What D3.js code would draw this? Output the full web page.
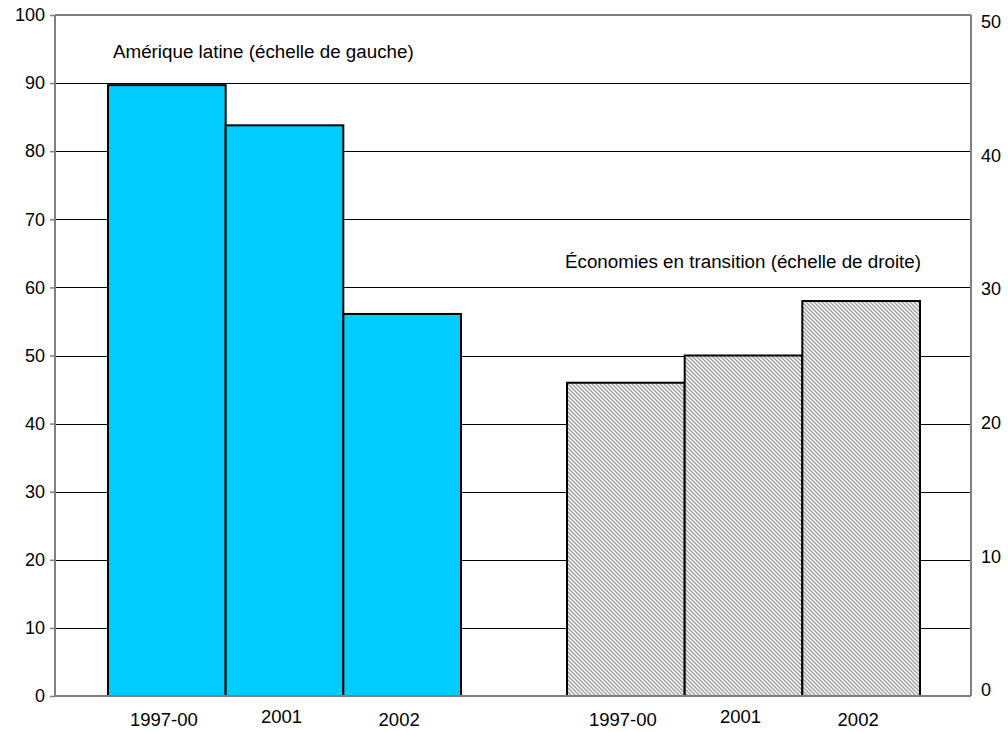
<!DOCTYPE html>
<html>
<head>
<meta charset="utf-8">
<script src="https://cdn.jsdelivr.net/npm/d3@7"></script>
<style>
  html, body { margin: 0; padding: 0; background: #fff; }
  svg { display: block; font-family: "Liberation Sans", Arial, sans-serif; }
</style>
</head>
<body>
<svg id="chart" width="1008" height="732"></svg>
<script>
// ---- data ----
const years = ["1997-00", "2001", "2002"];
const groups = ["Amérique latine", "Économies en transition"];
const latinValues = [89.7, 83.8, 56.1];        // left scale
const transitionValues = [23.0, 25.0, 29.0];   // right scale
const leftTicks = [0, 10, 20, 30, 40, 50, 60, 70, 80, 90, 100];
const rightTicks = [0, 10, 20, 30, 40, 50];
const annotations = ["Amérique latine (échelle de gauche)", "Économies en transition (échelle de droite)"];

// ---- layout ----
const svg = d3.select("#chart");
const plot = { left: 55, right: 971, top: 15, bottom: 696 };

const yLeft = d3.scaleLinear().domain([0, 100]).range([plot.bottom, plot.top]);
const yRight = d3.scaleLinear().domain([0, 50]).range([plot.bottom, plot.top]);
const yRightLabel = d3.scaleLinear().domain([0, 50]).range([690, 22]);

const xGroup = d3.scaleBand().domain(groups).range([108, 920]).paddingInner(0.231).paddingOuter(0);
const xYear = d3.scaleBand().domain(years).range([0, xGroup.bandwidth()]).padding(0);

// hatch pattern
const defs = svg.append("defs");
const pat = defs.append("pattern")
  .attr("id", "hatch").attr("patternUnits", "userSpaceOnUse")
  .attr("width", 4).attr("height", 4);
pat.append("rect").attr("width", 4).attr("height", 4).attr("fill", "#fff");
pat.append("path")
  .attr("d", "M-1,-1 L5,5 M-1,3 L1,5 M3,-1 L5,1")
  .attr("stroke", "#a0a0a0").attr("stroke-width", 1.4);

// gridlines
svg.append("g").selectAll("line")
  .data(leftTicks.filter(d => d > 0 && d < 100))
  .join("line")
  .attr("x1", plot.left).attr("x2", plot.right)
  .attr("y1", d => Math.round(yLeft(d)) + 0.5).attr("y2", d => Math.round(yLeft(d)) + 0.5)
  .attr("stroke", "#000").attr("stroke-width", 1);

// frame (top and right) in gray
svg.append("line").attr("x1", plot.left).attr("x2", plot.right)
  .attr("y1", plot.top).attr("y2", plot.top).attr("stroke", "#808080").attr("stroke-width", 2);
svg.append("line").attr("x1", plot.right).attr("x2", plot.right)
  .attr("y1", plot.top).attr("y2", plot.bottom).attr("stroke", "#808080").attr("stroke-width", 2);

// left axis
const leftAxis = d3.axisLeft(yLeft).tickValues(leftTicks).tickSize(5).tickPadding(5).tickFormat(d3.format("d"));
const gL = svg.append("g").attr("transform", `translate(${plot.left},0)`).call(leftAxis);
gL.select(".domain").attr("stroke", "#808080").attr("stroke-width", 2).attr("d", `M0,${plot.top}V${plot.bottom}`);
gL.selectAll(".tick line").attr("stroke", "#808080").attr("stroke-width", 1.5);
gL.selectAll(".tick text").attr("font-size", 18).attr("fill", "#000").attr("font-family", "Liberation Sans, Arial, sans-serif");

// right axis labels (no ticks)
const rightAxis = d3.axisRight(yRightLabel).tickValues(rightTicks).tickSize(0).tickPadding(10).tickFormat(d3.format("d"));
const gR = svg.append("g").attr("transform", `translate(${plot.right},0)`).call(rightAxis);
gR.select(".domain").remove();
gR.selectAll(".tick text").attr("font-size", 18).attr("fill", "#000").attr("font-family", "Liberation Sans, Arial, sans-serif");

// bars
const latinData = years.map((y, i) => ({ year: y, value: latinValues[i] }));
const transData = years.map((y, i) => ({ year: y, value: transitionValues[i] }));

svg.append("g").selectAll("rect").data(latinData).join("rect")
  .attr("x", d => xGroup(groups[0]) + xYear(d.year))
  .attr("width", xYear.bandwidth())
  .attr("y", d => yLeft(d.value))
  .attr("height", d => yLeft(0) - yLeft(d.value))
  .attr("fill", "#00ccff").attr("stroke", "#000").attr("stroke-width", 2);

svg.append("g").selectAll("rect").data(transData).join("rect")
  .attr("x", d => xGroup(groups[1]) + xYear(d.year))
  .attr("width", xYear.bandwidth())
  .attr("y", d => yRight(d.value))
  .attr("height", d => yRight(0) - yRight(d.value))
  .attr("fill", "url(#hatch)").attr("stroke", "#000").attr("stroke-width", 2);

// bottom axis line
svg.append("line").attr("x1", plot.left).attr("x2", plot.right)
  .attr("y1", plot.bottom).attr("y2", plot.bottom).attr("stroke", "#808080").attr("stroke-width", 2);

// category labels
groups.forEach(g => {
  svg.append("g").selectAll("text").data(years).join("text")
    .attr("x", d => xGroup(g) + xYear(d) + xYear.bandwidth() / 2 - 3)
    .attr("y", (d, i) => i === 1 ? 723 : 726)
    .attr("text-anchor", "middle")
    .attr("font-size", 18.5).attr("fill", "#000")
    .text(d => d);
});

// annotations
svg.append("text").attr("x", 113).attr("y", 58).attr("font-size", 18.8).attr("fill", "#000").text(annotations[0]);
svg.append("text").attr("x", 565).attr("y", 268).attr("font-size", 18.8).attr("fill", "#000").text(annotations[1]);
</script>
</body>
</html>
